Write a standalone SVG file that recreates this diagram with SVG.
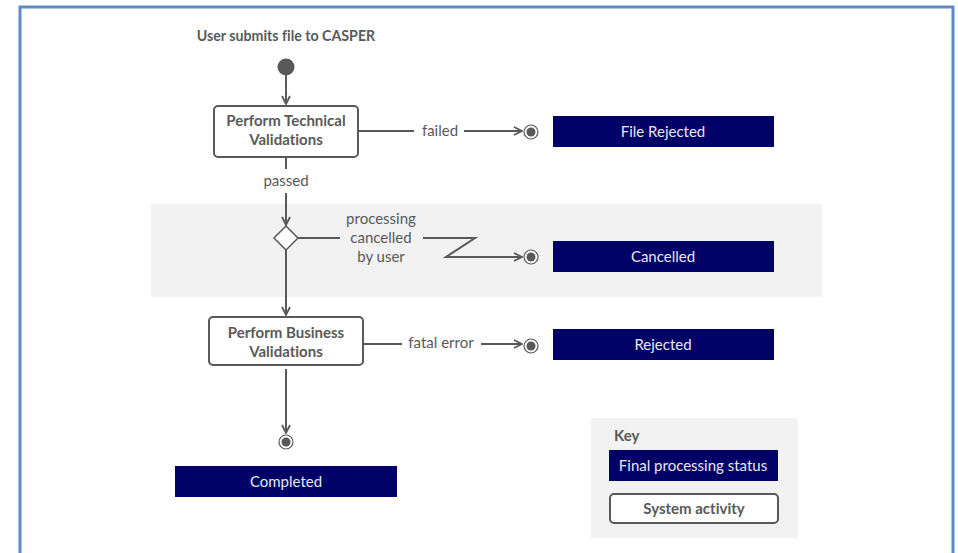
<svg xmlns="http://www.w3.org/2000/svg" width="958" height="553" viewBox="0 0 958 553">
<defs>
<style>
.t{font-family:Lato,"Liberation Sans",sans-serif;font-size:15px;fill:#595959;text-anchor:middle;font-variant-ligatures:none}
.b{font-weight:bold}
.w{fill:#E8E8F2}
.act{fill:#fff;stroke:#595959;stroke-width:2}
.fin{fill:#000066}
.ln{fill:none;stroke:#595959;stroke-width:2}
.endo{fill:#fff;stroke:#595959;stroke-width:1.2}
.endi{fill:#595959}
</style>
<marker id="ar" viewBox="0 0 10 10" refX="9" refY="5" markerWidth="10" markerHeight="10" markerUnits="userSpaceOnUse" orient="auto">
<path d="M1,1 L9,5 L1,9" fill="none" stroke="#595959" stroke-width="1.8"/>
</marker>
</defs>
<rect x="0" y="0" width="958" height="553" fill="#fff"/>
<rect x="20" y="7" width="933" height="560" fill="none" stroke="#5B8BC9" stroke-width="3"/>
<rect id="band" x="151" y="204" width="671" height="93" fill="#F2F2F2"/>
<text class="t b" x="286" y="41" style="font-size:14.2px">User submits file to CASPER</text>

<g id="connectors">
<line class="ln" x1="286" y1="75" x2="286" y2="104" marker-end="url(#ar)"/>
<line class="ln" x1="358" y1="131" x2="414" y2="131"/>
<line class="ln" x1="464" y1="131" x2="522" y2="131" marker-end="url(#ar)"/>
<line class="ln" x1="286" y1="157" x2="286" y2="169"/>
<line class="ln" x1="286" y1="193" x2="286" y2="225" marker-end="url(#ar)"/>
<line class="ln" x1="298" y1="238" x2="340" y2="238"/>
<polyline class="ln" points="423,238 475,238 446,257 522,257" marker-end="url(#ar)"/>
<line class="ln" x1="286" y1="250" x2="286" y2="315" marker-end="url(#ar)"/>
<line class="ln" x1="363" y1="344" x2="402" y2="344"/>
<line class="ln" x1="481" y1="344" x2="522" y2="344" marker-end="url(#ar)"/>
<line class="ln" x1="286" y1="369" x2="286" y2="433" marker-end="url(#ar)"/>
<text class="t" x="440" y="136">failed</text>
<text class="t" x="286" y="186">passed</text>
<text class="t" x="381" y="224">processing</text>
<text class="t" x="381" y="243">cancelled</text>
<text class="t" x="381" y="262">by user</text>
<text class="t" x="441" y="348">fatal error</text>
</g>

<g id="start"><circle cx="286" cy="67" r="8.5" fill="#595959"/></g>

<g id="tech">
<rect class="act" x="214" y="106" width="144" height="51" rx="4"/>
<text class="t b" x="286" y="126">Perform Technical</text>
<text class="t b" x="286" y="145">Validations</text>
</g>

<g id="decision"><polygon points="286,226 298,238 286,250 274,238" fill="#fff" stroke="#595959" stroke-width="1.5"/></g>

<g id="business">
<rect class="act" x="209" y="317" width="154" height="48" rx="4"/>
<text class="t b" x="286" y="338">Perform Business</text>
<text class="t b" x="286" y="357">Validations</text>
</g>

<g id="end1"><circle class="endo" cx="531" cy="132" r="7"/><circle class="endi" cx="531" cy="132" r="4.5"/></g>
<g id="end2"><circle class="endo" cx="531" cy="257" r="7"/><circle class="endi" cx="531" cy="257" r="4.5"/></g>
<g id="end3"><circle class="endo" cx="531" cy="346" r="7"/><circle class="endi" cx="531" cy="346" r="4.5"/></g>
<g id="end4"><circle class="endo" cx="286" cy="442" r="7"/><circle class="endi" cx="286" cy="442" r="4.5"/></g>

<g id="fileRejected"><rect class="fin" x="553" y="116" width="221" height="31"/><text class="t w" x="663" y="137">File Rejected</text></g>
<g id="cancelled"><rect class="fin" x="553" y="241" width="221" height="31"/><text class="t w" x="663" y="262">Cancelled</text></g>
<g id="rejected"><rect class="fin" x="553" y="329" width="221" height="31"/><text class="t w" x="663" y="350">Rejected</text></g>
<g id="completed"><rect class="fin" x="175" y="466" width="222" height="31"/><text class="t w" x="286" y="487">Completed</text></g>

<g id="key">
<rect x="591" y="418" width="207" height="120" fill="#F2F2F2"/>
<text class="t b" x="614" y="441" style="text-anchor:start">Key</text>
<rect class="fin" x="609" y="450" width="169" height="31"/>
<text class="t w" x="693" y="471">Final processing status</text>
<rect class="act" x="610" y="494" width="168" height="29" rx="4"/>
<text class="t b" x="694" y="514">System activity</text>
</g>
</svg>
